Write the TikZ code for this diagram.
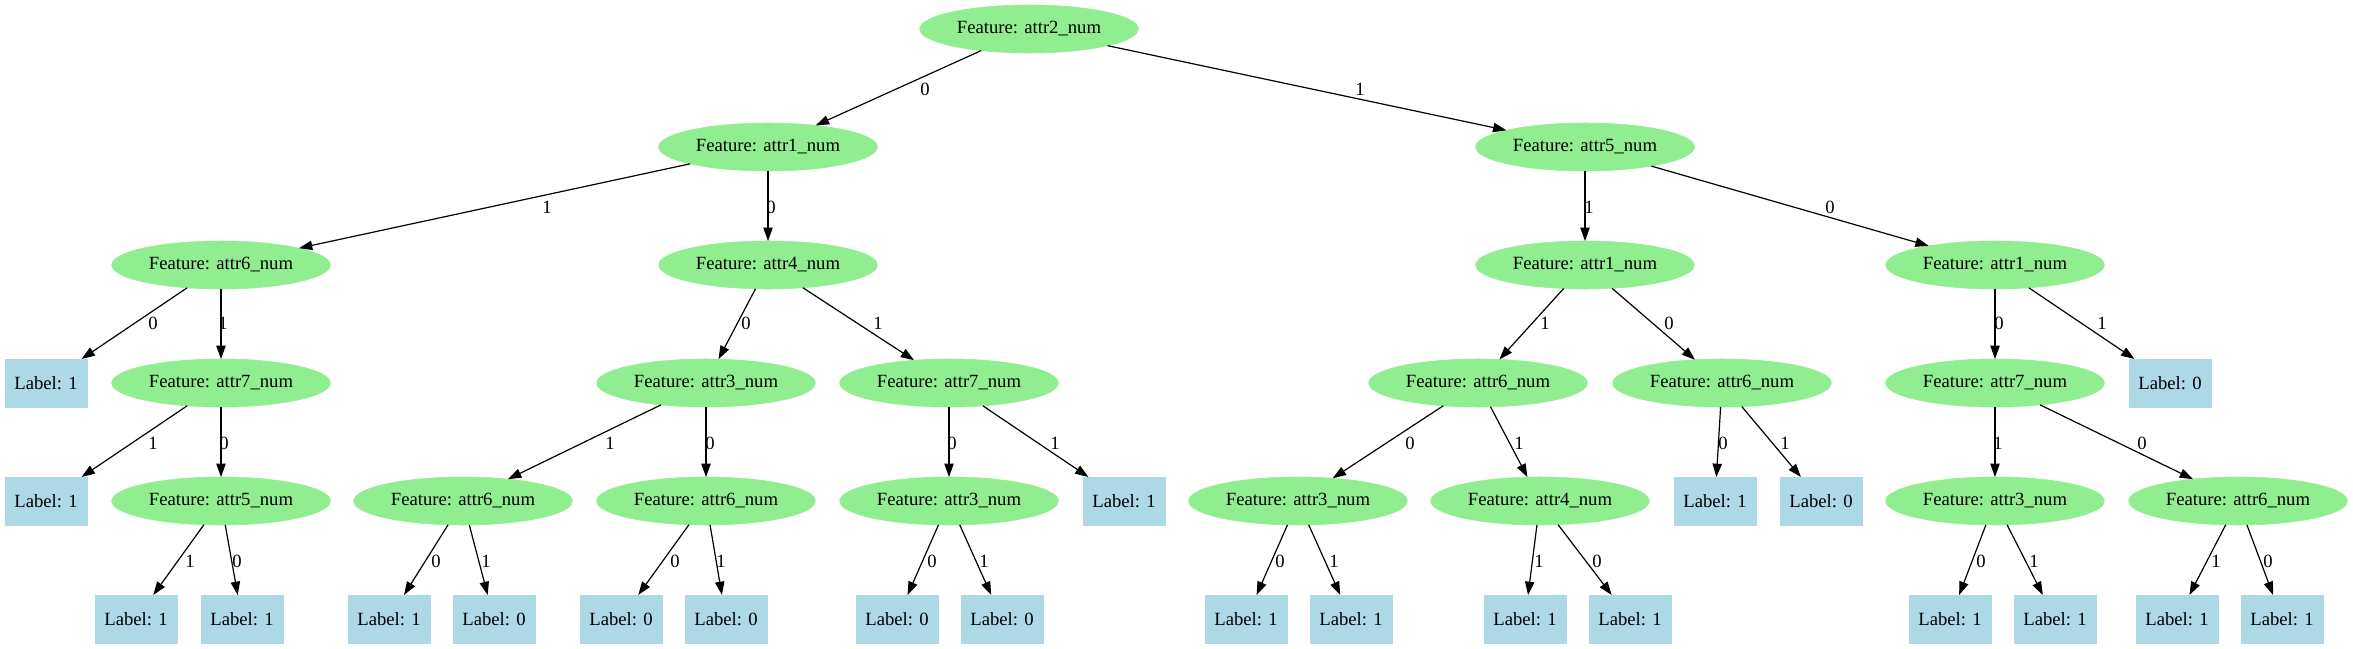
\documentclass[tikz,border=0pt]{standalone}
\usepackage{fontspec}
\setmainfont{Liberation Serif}
\usetikzlibrary{shapes.geometric,arrows.meta}
\definecolor{lgreen}{HTML}{90EE90}
\definecolor{lblue}{HTML}{ADD8E6}
\newcommand{\Feat}[1]{Feature: attr#1\_num}
\newcommand{\Lab}[1]{Label: #1}
\begin{document}
\begin{tikzpicture}[x=0.75pt,y=-0.75pt,
  feat/.style={ellipse, fill=lgreen, draw=lgreen, minimum width=164pt, minimum height=36pt, inner sep=0pt, outer sep=0pt, font=\fontsize{14}{16}\selectfont},
  leaf/.style={rectangle, fill=lblue, draw=lblue, minimum width=61.5pt, minimum height=36pt, inner sep=0pt, outer sep=0pt, font=\fontsize{14}{16}\selectfont},
  conn/.style={draw, line width=0.9pt, -{Triangle[length=10pt,width=7pt]}},
  elab/.style={font=\fontsize{14}{16}\selectfont, inner sep=0pt}
]
\useasboundingbox (0,0) rectangle (2353,649);
% level 0
\node[feat] (r) at (1029,29) {\Feat{2}};
% level 1
\node[feat] (a) at (768,147) {\Feat{1}};
\node[feat] (b) at (1585,147) {\Feat{5}};
% level 2
\node[feat] (c) at (221,265) {\Feat{6}};
\node[feat] (d) at (768,265) {\Feat{4}};
\node[feat] (e) at (1585,265) {\Feat{1}};
\node[feat] (f) at (1995,265) {\Feat{1}};
% level 3
\node[leaf] (g) at (46,383) {\Lab{1}};
\node[feat] (h) at (221,383) {\Feat{7}};
\node[feat] (i) at (706,383) {\Feat{3}};
\node[feat] (j) at (949,383) {\Feat{7}};
\node[feat] (k) at (1478,383) {\Feat{6}};
\node[feat] (l) at (1722,383) {\Feat{6}};
\node[feat] (m) at (1995,383) {\Feat{7}};
\node[leaf] (n) at (2170,383) {\Lab{0}};
% level 4
\node[leaf] (o) at (46,501) {\Lab{1}};
\node[feat] (p) at (221,501) {\Feat{5}};
\node[feat] (q) at (463,501) {\Feat{6}};
\node[feat] (s) at (706,501) {\Feat{6}};
\node[feat] (t) at (949,501) {\Feat{3}};
\node[leaf] (u) at (1124,501) {\Lab{1}};
\node[feat] (v) at (1298,501) {\Feat{3}};
\node[feat] (w) at (1540,501) {\Feat{4}};
\node[leaf] (x) at (1715,501) {\Lab{1}};
\node[leaf] (y) at (1821,501) {\Lab{0}};
\node[feat] (z) at (1995,501) {\Feat{3}};
\node[feat] (aa) at (2238,501) {\Feat{6}};
% level 5
\node[leaf] (p1) at (136,619) {\Lab{1}};
\node[leaf] (p0) at (242,619) {\Lab{1}};
\node[leaf] (q0) at (389,619) {\Lab{1}};
\node[leaf] (q1) at (494,619) {\Lab{0}};
\node[leaf] (s0) at (621,619) {\Lab{0}};
\node[leaf] (s1) at (726,619) {\Lab{0}};
\node[leaf] (t0) at (897,619) {\Lab{0}};
\node[leaf] (t1) at (1002,619) {\Lab{0}};
\node[leaf] (v0) at (1246,619) {\Lab{1}};
\node[leaf] (v1) at (1351,619) {\Lab{1}};
\node[leaf] (w1) at (1525,619) {\Lab{1}};
\node[leaf] (w0) at (1630,619) {\Lab{1}};
\node[leaf] (z0) at (1950,619) {\Lab{1}};
\node[leaf] (z1) at (2055,619) {\Lab{1}};
\node[leaf] (aa1) at (2177,619) {\Lab{1}};
\node[leaf] (aa0) at (2282,619) {\Lab{1}};
% connectors
\draw[conn] (r) -- (a);  \draw[conn] (r) -- (b);
\draw[conn] (a) -- (c);  \draw[conn] (a) -- (d);
\draw[conn] (b) -- (e);  \draw[conn] (b) -- (f);
\draw[conn] (c) -- (g);  \draw[conn] (c) -- (h);
\draw[conn] (d) -- (i);  \draw[conn] (d) -- (j);
\draw[conn] (e) -- (k);  \draw[conn] (e) -- (l);
\draw[conn] (f) -- (m);  \draw[conn] (f) -- (n);
\draw[conn] (h) -- (o);  \draw[conn] (h) -- (p);
\draw[conn] (i) -- (q);  \draw[conn] (i) -- (s);
\draw[conn] (j) -- (t);  \draw[conn] (j) -- (u);
\draw[conn] (k) -- (v);  \draw[conn] (k) -- (w);
\draw[conn] (l) -- (x);  \draw[conn] (l) -- (y);
\draw[conn] (m) -- (z);  \draw[conn] (m) -- (aa);
\draw[conn] (p) -- (p1); \draw[conn] (p) -- (p0);
\draw[conn] (q) -- (q0); \draw[conn] (q) -- (q1);
\draw[conn] (s) -- (s0); \draw[conn] (s) -- (s1);
\draw[conn] (t) -- (t0); \draw[conn] (t) -- (t1);
\draw[conn] (v) -- (v0); \draw[conn] (v) -- (v1);
\draw[conn] (w) -- (w1); \draw[conn] (w) -- (w0);
\draw[conn] (z) -- (z0); \draw[conn] (z) -- (z1);
\draw[conn] (aa) -- (aa1); \draw[conn] (aa) -- (aa0);
% edge labels
\node[elab] (lra) at (925,89) {0};   \node[elab] (lrb) at (1360,89) {1};
\node[elab] (lac) at (547,207) {1};  \node[elab] (lad) at (771,207) {0};
\node[elab] (lbe) at (1589,207) {1}; \node[elab] (lbf) at (1830,207) {0};
\node[elab] (lcg) at (153,323) {0};  \node[elab] (lch) at (223,323) {1};
\node[elab] (ldi) at (746,323) {0};  \node[elab] (ldj) at (878,323) {1};
\node[elab] (lek) at (1545,323) {1}; \node[elab] (lel) at (1669,323) {0};
\node[elab] (lfm) at (1999,323) {0}; \node[elab] (lfn) at (2102,323) {1};
\node[elab] (lho) at (153,443) {1};  \node[elab] (lhp) at (224,443) {0};
\node[elab] (liq) at (610,443) {1};  \node[elab] (lis) at (710,443) {0};
\node[elab] (ljt) at (952,443) {0};  \node[elab] (lju) at (1055,443) {1};
\node[elab] (lkv) at (1410,443) {0}; \node[elab] (lkw) at (1519,443) {1};
\node[elab] (llx) at (1723,443) {0}; \node[elab] (lly) at (1785,443) {1};
\node[elab] (lmz) at (1998,443) {1}; \node[elab] (lmaa) at (2142,443) {0};
\node[elab] (lp1) at (190,561) {1};  \node[elab] (lp0) at (237,561) {0};
\node[elab] (lq0) at (436,561) {0};  \node[elab] (lq1) at (486,561) {1};
\node[elab] (ls0) at (675,561) {0};  \node[elab] (ls1) at (721,561) {1};
\node[elab] (lt0) at (932,561) {0};  \node[elab] (lt1) at (984,561) {1};
\node[elab] (lv0) at (1280,561) {0}; \node[elab] (lv1) at (1334,561) {1};
\node[elab] (lw1) at (1539,561) {1}; \node[elab] (lw0) at (1597,561) {0};
\node[elab] (lz0) at (1981,561) {0}; \node[elab] (lz1) at (2034,561) {1};
\node[elab] (laa1) at (2216,561) {1}; \node[elab] (laa0) at (2268,561) {0};
\end{tikzpicture}
\end{document}
